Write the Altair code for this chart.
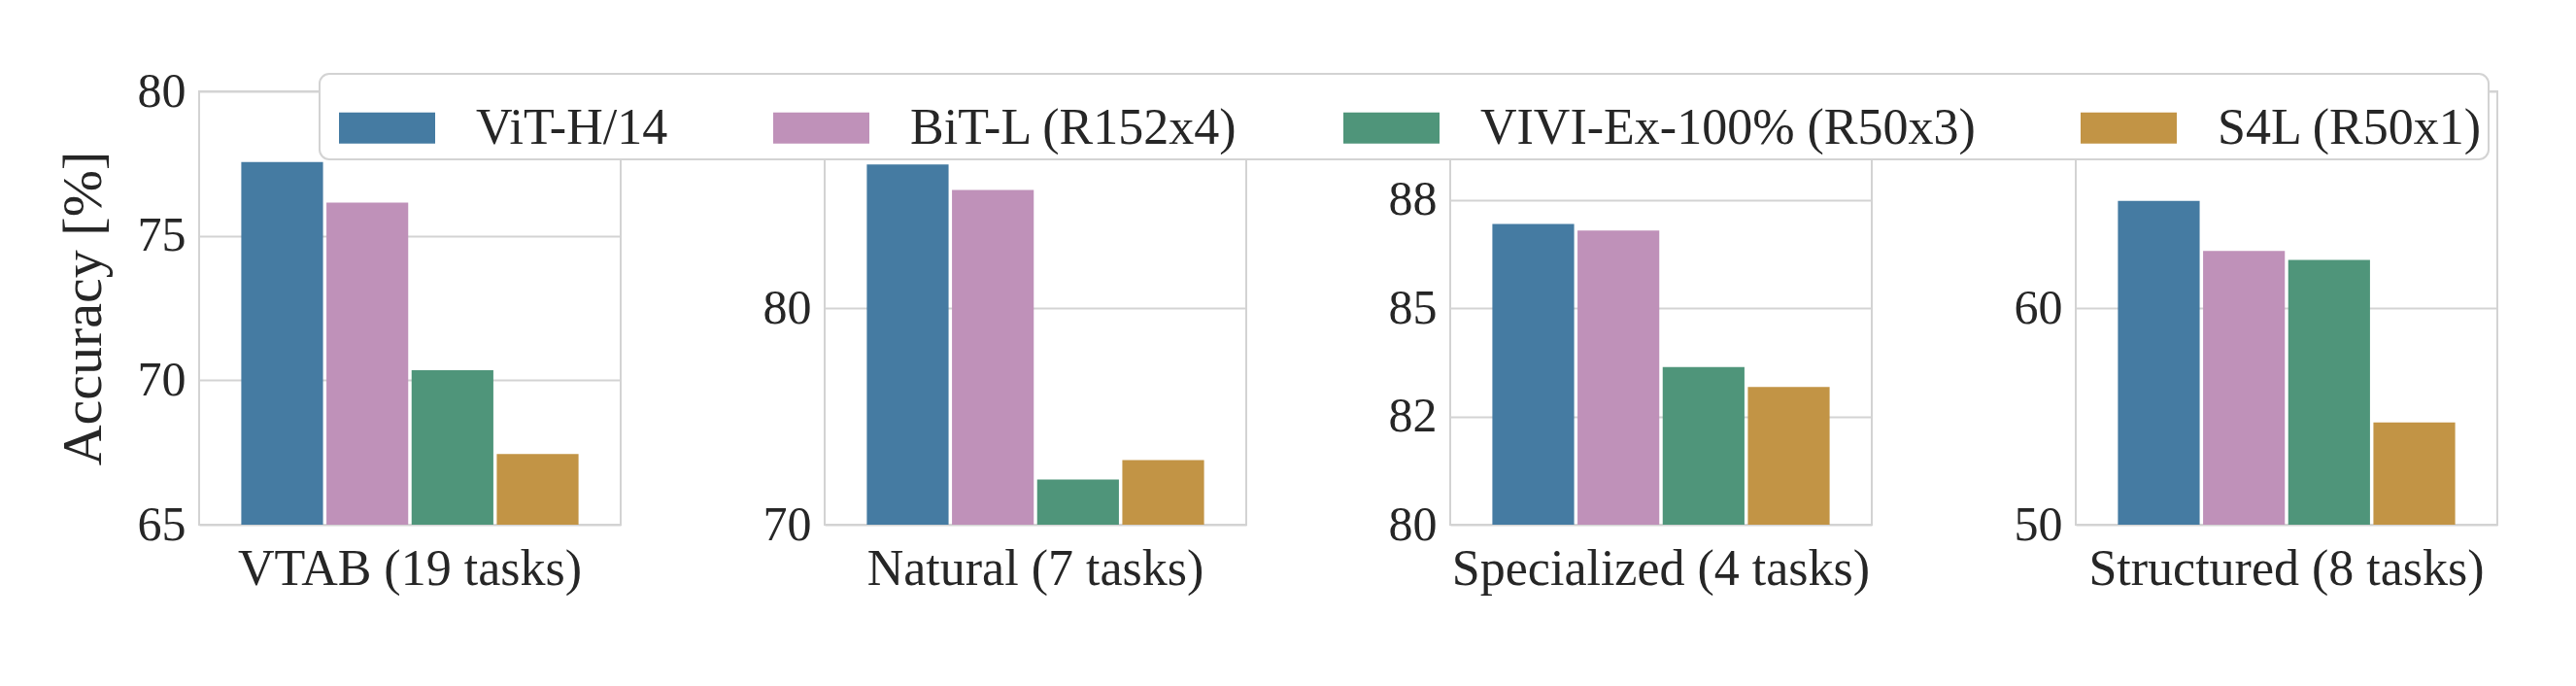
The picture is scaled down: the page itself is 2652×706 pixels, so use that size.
import altair as alt
import pandas as pd

tasks = ["VTAB (19 tasks)", "Natural (7 tasks)", "Specialized (4 tasks)", "Structured (8 tasks)"]
models = ["ViT-H/14", "BiT-L (R152x4)", "VIVI-Ex-100% (R50x3)", "S4L (R50x1)"]
colors = ["#457ba2", "#bf91b9", "#4f957a", "#c29445"]

vit = [77.55, 86.62, 86.94, 64.94]
bit = [76.15, 85.45, 86.79, 62.64]
vivi = [70.35, 72.09, 83.64, 62.22]
s4l = [67.45, 72.98, 83.18, 54.72]

y_domains = [[65, 80], [70, 90], [80, 90], [50, 70]]
y_ticks = [[65, 70, 75, 80], [70, 80, 90], [80, 82.5, 85, 87.5, 90], [50, 60, 70]]
y_tick_labels = [["65", "70", "75", "80"], ["70", "80", "90"],
                 ["80", "82", "85", "88", "90"], ["50", "60", "70"]]

rows = []
for ti, t in enumerate(tasks):
    for m, series in zip(models, [vit, bit, vivi, s4l]):
        rows.append({"task": t, "model": m, "acc": series[ti]})
df = pd.DataFrame(rows)

FONT = "Liberation Serif"
TXT = "#262626"
GRID = "#d3d3d3"

legend = alt.Legend(
    orient="none", legendX=124, legendY=-18, direction="horizontal", columns=4,
    title=None, symbolType="M-1,-0.3232L1,-0.3232L1,0.3232L-1,0.3232Z",
    symbolSize=9801, symbolStrokeWidth=0, symbolOpacity=1, symbolOffset=14,
    labelFontSize=52, labelFont=FONT, labelColor=TXT, labelOffset=42,
    columnPadding=94, padding=6, fillColor="white", strokeColor=GRID,
    cornerRadius=10, labelLimit=2000,
)


def label_expr(vals, labs):
    parts = [f"datum.value == {v} ? '{l}'" for v, l in zip(vals, labs)]
    return " : ".join(parts) + " : ''"


panels = []
for i, t in enumerate(tasks):
    p = alt.Chart(df[df.task == t]).mark_bar(clip=True).encode(
        x=alt.X("task:N", sort=tasks, title=None,
                scale=alt.Scale(paddingInner=0, paddingOuter=0.125),
                axis=alt.Axis(labelAngle=0, ticks=False, domain=False, labelPadding=20,
                              labelFontSize=52, grid=False, labelLimit=2000)),
        xOffset=alt.XOffset("model:N", sort=models,
                            scale=alt.Scale(paddingInner=0.04, paddingOuter=0)),
        y=alt.Y("acc:Q",
                scale=alt.Scale(domain=y_domains[i], nice=False, zero=False),
                axis=alt.Axis(values=y_ticks[i],
                              labelExpr=label_expr(y_ticks[i], y_tick_labels[i]),
                              title="Accuracy [%]" if i == 0 else None,
                              titleFontSize=58, titleFontWeight="normal", titlePadding=26,
                              labelFontSize=50, labelPadding=14, ticks=False, domain=False,
                              grid=True, gridColor=GRID, gridWidth=2)),
        color=alt.Color("model:N", sort=models,
                        scale=alt.Scale(domain=models, range=colors), legend=legend),
    ).properties(width=434, height=446)
    panels.append(p)

chart = alt.hconcat(*panels, spacing=144).resolve_scale(
    y="independent", x="independent", xOffset="independent"
).configure_view(
    stroke=GRID, strokeWidth=2
).configure_axis(
    labelFont=FONT, titleFont=FONT, labelColor=TXT, titleColor=TXT
).configure_legend(
    strokeWidth=2
).properties(
    padding={"left": 48, "top": 60, "right": 5, "bottom": 5}
)

chart.save("out.html", embed_options={"renderer": "svg", "actions": False})
